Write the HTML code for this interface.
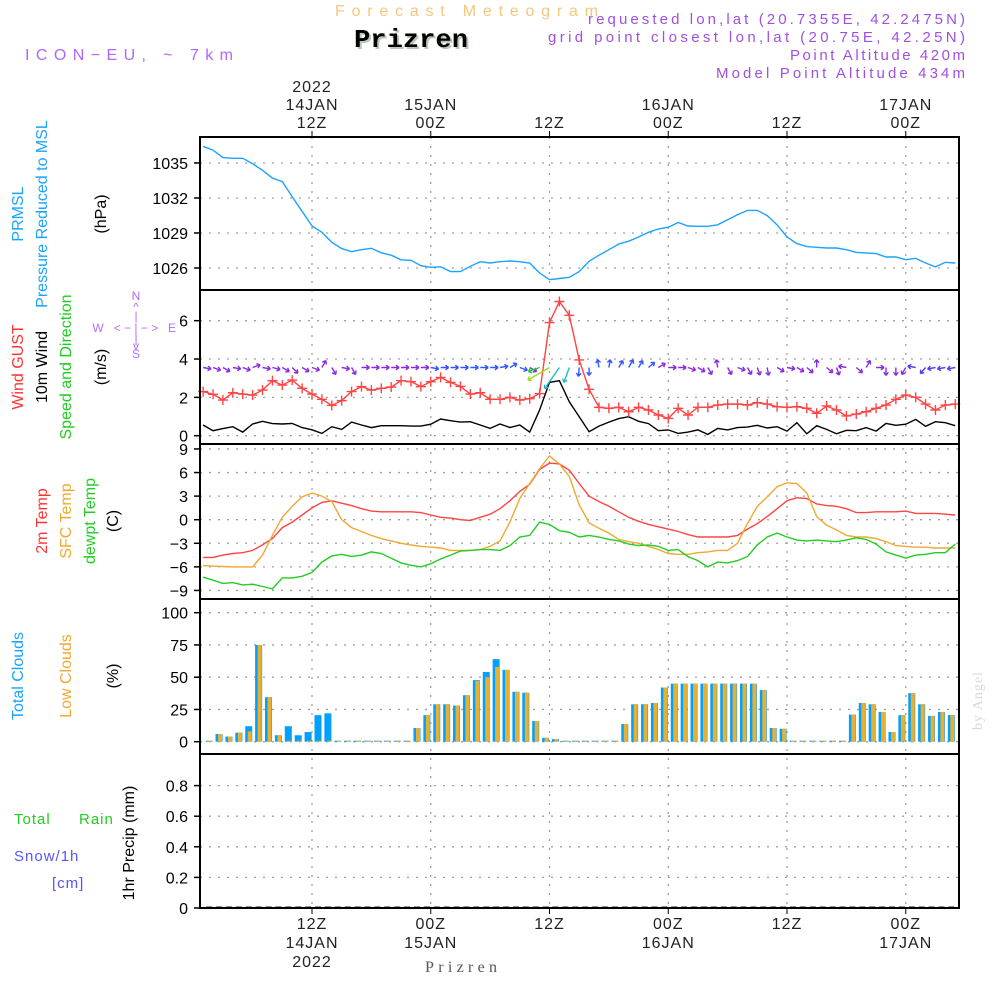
<!DOCTYPE html>
<html><head><meta charset="utf-8">
<style>
html,body{margin:0;padding:0;background:#fff;}
#wrap{position:relative;width:1000px;height:1000px;overflow:hidden;font-family:"Liberation Sans",sans-serif;}
svg text{font-family:"Liberation Sans",sans-serif;}
</style></head>
<body>
<div id="wrap">
<svg id="chart" width="1000" height="1000" xmlns="http://www.w3.org/2000/svg">
<text x="335" y="16" font-size="16" textLength="263" lengthAdjust="spacing" fill="#f5c77e">Forecast Meteogram</text>
<text x="356" y="49" font-size="26" font-weight="bold" textLength="114" lengthAdjust="spacingAndGlyphs" fill="#b9c9b9" style="font-family:'Liberation Mono',monospace">Prizren</text>
<text x="354" y="47" font-size="26" font-weight="bold" textLength="114" lengthAdjust="spacingAndGlyphs" fill="#000" style="font-family:'Liberation Mono',monospace">Prizren</text>
<text x="25" y="60" font-size="16" textLength="208" lengthAdjust="spacing" fill="#b266ff">ICON−EU, ~ 7km</text>
<g font-size="15" fill="#a050e0">
<text x="588" y="24" textLength="377" lengthAdjust="spacing">requested lon,lat (20.7355E, 42.2475N)</text>
<text x="548" y="42" textLength="417" lengthAdjust="spacing">grid point closest lon,lat (20.75E, 42.25N)</text>
<text x="790" y="60" textLength="175" lengthAdjust="spacing">Point Altitude 420m</text>
<text x="716" y="78" textLength="249" lengthAdjust="spacing">Model Point Altitude 434m</text>
</g>
<text transform="translate(982,730) rotate(-90)" font-size="14" fill="#d8d8d8" letter-spacing="1" style="font-family:'Liberation Serif',serif">by Angel</text>
<text x="425" y="972" font-size="16" textLength="72" lengthAdjust="spacing" fill="#555" style="font-family:'Liberation Serif',serif">Prizren</text>

<g id="leftlabels" font-size="16">
<text transform="translate(23,214) rotate(-90)" text-anchor="middle" fill="#1aa3ff">PRMSL</text>
<text transform="translate(47,214) rotate(-90)" text-anchor="middle" fill="#1aa3ff">Pressure Reduced to MSL</text>
<text transform="translate(106,214) rotate(-90)" text-anchor="middle" fill="#000">(hPa)</text>
<text transform="translate(23,367) rotate(-90)" text-anchor="middle" fill="#ff3333">Wind GUST</text>
<text transform="translate(47,367) rotate(-90)" text-anchor="middle" fill="#000">10m Wind</text>
<text transform="translate(71,367) rotate(-90)" text-anchor="middle" fill="#22cc22">Speed and Direction</text>
<text transform="translate(106,367) rotate(-90)" text-anchor="middle" fill="#000">(m/s)</text>
<text transform="translate(47,521) rotate(-90)" text-anchor="middle" fill="#ff3333">2m Temp</text>
<text transform="translate(71,521) rotate(-90)" text-anchor="middle" fill="#f0a830">SFC Temp</text>
<text transform="translate(95,521) rotate(-90)" text-anchor="middle" fill="#22cc22">dewpt Temp</text>
<text transform="translate(118,521) rotate(-90)" text-anchor="middle" fill="#000">(C)</text>
<text transform="translate(23,676) rotate(-90)" text-anchor="middle" fill="#1aa3ff">Total Clouds</text>
<text transform="translate(71,676) rotate(-90)" text-anchor="middle" fill="#f0a830">Low Clouds</text>
<text transform="translate(118,676) rotate(-90)" text-anchor="middle" fill="#000">(%)</text>
<text x="14" y="824" font-size="15" fill="#22cc22" letter-spacing="1">Total</text>
<text x="79" y="824" font-size="15" fill="#22cc22" letter-spacing="1">Rain</text>
<text x="14" y="861" font-size="15" fill="#5555ff" letter-spacing="1">Snow/1h</text>
<text x="52" y="888" font-size="15" fill="#5555ff" letter-spacing="1">[cm]</text>
<text transform="translate(134,843) rotate(-90)" text-anchor="middle" fill="#000">1hr Precip (mm)</text>
</g>
<g fill="#b070ff" font-size="12" text-anchor="middle">
<text x="136" y="300">N</text><text x="136" y="311">^</text><text x="136" y="320">|</text>
<text x="98" y="332">W</text><text x="136" y="332">&lt; − | − &gt;</text><text x="172" y="332">E</text>
<text x="136" y="343">|</text><text x="136" y="350">v</text><text x="136" y="358">S</text>
</g>
<g id="grid"></g>
<g id="marks"></g>
<g id="frames"></g>
</svg>
</div>
<script>
// ---- data (hourly from 01Z 14JAN) ----
const pressure = [1036.43,1036.1,1035.46,1035.4,1035.4,1034.94,1034.37,1033.7,1033.4,1032.1,1030.86,1029.6,1029.06,1028.2,1027.66,1027.4,1027.57,1027.69,1027.3,1027.1,1026.7,1026.66,1026.2,1026.06,1026.1,1025.7,1025.69,1026.14,1026.54,1026.43,1026.54,1026.6,1026.54,1026.43,1025.57,1025.0,1025.1,1025.2,1025.69,1026.57,1027.1,1027.57,1028.06,1028.3,1028.66,1029.06,1029.34,1029.5,1029.9,1029.6,1029.57,1029.57,1029.7,1030.14,1030.57,1030.94,1030.94,1030.49,1029.7,1028.66,1028.09,1027.83,1027.77,1027.71,1027.71,1027.57,1027.34,1027.29,1027.23,1026.94,1026.94,1026.71,1026.83,1026.43,1026.09,1026.49,1026.43];
const wind10m = [0.56,0.26,0.37,0.47,0.19,0.61,0.75,0.63,0.61,0.64,0.42,0.31,0.12,0.47,0.33,0.71,0.56,0.42,0.52,0.52,0.52,0.5,0.5,0.6,0.87,0.78,0.71,0.73,0.56,0.38,0.61,0.43,0.56,0.19,1.34,2.78,2.87,1.77,0.99,0.21,0.5,0.71,0.89,0.99,0.75,0.63,0.26,0.3,0.12,0.19,0.3,0.07,0.38,0.3,0.42,0.45,0.54,0.4,0.47,0.24,0.68,0.1,0.52,0.33,0.1,0.28,0.26,0.42,0.24,0.64,0.54,0.6,0.85,0.49,0.73,0.68,0.52];
const windGust = [2.3,2.16,1.86,2.24,2.17,2.12,2.38,2.87,2.64,2.9,2.47,2.17,1.9,1.58,1.83,2.3,2.56,2.38,2.47,2.54,2.87,2.82,2.56,2.82,3.04,2.78,2.57,2.17,2.24,1.9,1.9,2.0,1.86,1.93,2.2,5.9,7.0,6.28,3.95,2.42,1.48,1.43,1.48,1.25,1.48,1.34,1.08,0.9,1.43,1.08,1.48,1.48,1.6,1.65,1.65,1.6,1.72,1.65,1.51,1.48,1.51,1.43,1.17,1.55,1.34,1.03,1.13,1.25,1.43,1.6,1.9,2.12,2.0,1.65,1.34,1.6,1.65];
const windDir = [10,20,30,10,20,-20,10,15,30,45,30,20,-60,60,10,60,0,0,0,0,0,0,0,10,0,0,0,0,0,0,-10,-30,20,30,160,150,125,110,95,90,-100,-80,-60,-60,-60,-40,-30,0,0,20,30,60,-100,60,20,60,70,80,30,10,30,40,-90,40,70,-170,40,-60,0,90,90,120,-170,130,170,170,170];
const temp2m = [-4.8,-4.8,-4.5,-4.3,-4.2,-3.9,-3.2,-2.4,-1.0,-0.3,0.6,1.5,2.2,2.4,2.1,1.8,1.4,1.1,1.0,1.0,1.0,1.0,0.9,0.6,0.3,0.2,0.0,-0.1,0.3,0.7,1.4,2.4,3.6,4.5,6.4,7.2,7.1,6.3,4.6,3.0,2.3,1.7,1.0,0.3,-0.2,-0.6,-0.9,-1.2,-1.5,-1.9,-2.2,-2.2,-2.2,-2.2,-2.0,-1.2,-0.5,0.4,1.4,2.4,2.8,2.7,2.0,1.8,1.7,1.4,0.9,0.9,1.0,1.0,1.0,1.1,0.8,0.8,0.8,0.7,0.6];
const tempSfc = [-5.85,-5.9,-5.95,-6.0,-6.0,-6.0,-4.5,-2.0,0.3,1.7,2.9,3.4,3.0,2.3,0.0,-1.0,-1.5,-2.0,-2.4,-2.7,-3.0,-3.2,-3.4,-3.5,-3.6,-3.9,-3.9,-3.9,-3.8,-3.4,-2.7,-0.3,2.7,4.6,6.5,8.1,7.1,5.5,1.9,-0.4,-1.1,-1.7,-2.5,-2.8,-3.0,-3.4,-3.8,-4.3,-4.4,-4.4,-4.2,-4.1,-3.9,-3.9,-3.0,-0.5,1.7,2.9,4.2,4.7,4.6,3.4,0.4,-0.7,-1.3,-2.0,-2.2,-2.2,-2.4,-2.8,-3.3,-3.4,-3.5,-3.5,-3.6,-3.6,-3.6];
const dewpt = [-7.3,-7.7,-8.1,-8.0,-8.3,-8.2,-8.5,-8.8,-7.4,-7.4,-7.2,-6.7,-5.4,-4.6,-4.4,-4.7,-4.5,-4.1,-4.3,-4.9,-5.5,-5.8,-6.0,-5.6,-5.0,-4.5,-4.0,-3.9,-3.8,-3.8,-3.9,-3.3,-2.2,-2.0,-0.3,-0.6,-1.4,-1.6,-2.2,-2.0,-2.2,-2.5,-2.7,-3.1,-3.3,-3.2,-3.4,-3.9,-3.8,-4.7,-5.2,-6.0,-5.4,-5.5,-5.2,-4.7,-3.2,-2.2,-1.7,-2.2,-2.6,-2.7,-2.6,-2.7,-2.8,-2.6,-2.3,-2.5,-3.1,-4.1,-4.5,-4.9,-4.5,-4.4,-4.2,-4.2,-3.1];
const totalClouds = [0,6,4,7,12,75,34.5,5,12,5,7.5,20.6,22,0,0,0,0,0,0,0,0,10.6,20.6,29,29,28,36,47.7,54,64,55.7,38.7,38,16,3,2,0,0,0,0,0,0,13.7,29,29,30,42,45,45,45,45,45,45,45,45,45,40,10.6,10,0,0,0,0,0,0,21,30,29,23,7.5,20.6,37.6,29,20,23,20.6];
const lowClouds = [0,6,4,7,8,75,34.5,5,0,0,0,0,0,0,0,0,0,0,0,0,0,10.6,20.6,29,29,28,36,47,50,58,55.7,38.7,38,16,3,2,0,0,0,0,0,0,13.7,29,29,30,42,45,45,45,45,45,45,45,45,45,40,10.6,10,0,0,0,0,0,0,21,30,29,23,7.5,20.6,37.6,29,20,23,20.6];
const precip = new Array(76).fill(0);
const pressTicks = [1026,1029,1032,1035];
const windTicks = [0,2,4,6];
const tempTicks = [-9,-6,-3,0,3,6,9];
const cloudTicks = [0,25,50,75,100];
const precipTicks = [0,0.2,0.4,0.6,0.8];
const timeTicks = [12,24,36,48,60,72];
const topLabels = [["2022","14JAN","12Z"],["15JAN","00Z"],["12Z"],["16JAN","00Z"],["12Z"],["17JAN","00Z"]];
const botLabels = [["12Z","14JAN","2022"],["00Z","15JAN"],["12Z"],["00Z","16JAN"],["12Z"],["00Z","17JAN"]];
const arrowColors = (function(){const c=[];for(let i=0;i<77;i++){let col='#8a2be2';if(i>=23&&i<=32)col='#3355ff';if(i==34)col='#22cc22';if(i==35)col='#99dd22';if(i==36||i==37)col='#22bbcc';if(i>=38&&i<=45)col='#3355ff';if(i>=72)col='#5a3af0';c.push(col);}return c;})();

// ---- axes ----
const X0=200,X1=959;
const panels=[{t:137,b:290},{t:290,b:444},{t:444,b:599},{t:599,b:754},{t:754,b:908}];
const xT = t => 312 + (t-12)*9.896;
const yP = v => 268 - (v-1026)*11.67;
const yW = v => 435.7 - v*19.17;
const yT = v => 519.7 - v*7.86;
const yC = v => 741.7 - v*1.29;
const yR = v => 908 - v*153;
const NS='http://www.w3.org/2000/svg';
function mk(tag,attrs,parent){const e=document.createElementNS(NS,tag);for(const k in attrs)e.setAttribute(k,attrs[k]);parent.appendChild(e);return e;}
const grid=document.getElementById('grid'),marks=document.getElementById('marks'),frames=document.getElementById('frames');
const dot={stroke:'#a0a0a0','stroke-width':1.3,'stroke-dasharray':'2,7',fill:'none'};

timeTicks.forEach(t=>{
  const x=xT(t);
  const g=mk('line',Object.assign({x1:x,x2:x,y1:137,y2:908},dot),grid);
  
  
  mk('line',{x1:x,x2:x,y1:131,y2:137,stroke:'#000'},frames);
  mk('line',{x1:x,x2:x,y1:908,y2:914,stroke:'#000'},frames);
});
function hgrid(ticks,yf,fmt,name){
  ticks.forEach(v=>{
    const y=yf(v);
    const l=mk('line',Object.assign({x1:X0,x2:X1,y1:y,y2:y},dot),grid);
    
    
    mk('line',{x1:X0-6,x2:X0,y1:y,y2:y,stroke:'#000','stroke-width':1.5},frames);
    const tx=mk('text',{x:X0-12,y:y+6,'text-anchor':'end','font-size':16,fill:'#000'},frames);
    tx.textContent=fmt(v);
    
    
  });
}
hgrid(pressTicks,yP,v=>String(v),'pressure');
hgrid(windTicks,yW,v=>String(v),'wind');
hgrid(tempTicks,yT,v=>(v<0?'−'+(-v):String(v)),'temp');
hgrid(cloudTicks,yC,v=>String(v),'cloud');
hgrid(precipTicks,yR,v=>(v===0?'0':v.toFixed(1)),'precip');

topLabels.forEach((lab,i)=>{
  const x=xT(timeTicks[i]);
  lab.slice().reverse().forEach((s,j)=>{
    const t=mk('text',{x:x,y:128-j*18,'text-anchor':'middle','font-size':16,'letter-spacing':1,fill:'#222'},frames);
    t.textContent=s;
    
    
  });
});
botLabels.forEach((lab,i)=>{
  const x=xT(timeTicks[i]);
  lab.forEach((s,j)=>{
    const t=mk('text',{x:x,y:929+j*19,'text-anchor':'middle','font-size':16,'letter-spacing':1,fill:'#222'},frames);
    t.textContent=s;
    
    
  });
});

panels.forEach((p,i)=>{
  const r=mk('rect',{x:X0,y:p.t,width:X1-X0,height:p.b-p.t,fill:'none',stroke:'#000','stroke-width':2},frames);
  
  
});

function line(arr,yf,color,name){
  const pts=arr.map((v,i)=>xT(i+1).toFixed(1)+','+yf(v).toFixed(1)).join(' ');
  const pl=mk('polyline',{points:pts,fill:'none',stroke:color,'stroke-width':1.4},marks);
  
  
}
line(pressure,yP,'#1aa3ff','pressure-line');
line(wind10m,yW,'#000','wind-10m-line');
line(windGust,yW,'#ff4444','wind-gust-line');
windGust.forEach((v,i)=>{
  const x=xT(i+1),y=yW(v);
  const m=mk('path',{d:`M${x-5},${y}H${x+5}M${x},${y-5}V${y+5}`,stroke:'#ff4444','stroke-width':1.4},marks);
  
  
});
windDir.forEach((a,i)=>{
  const x=xT(i+1),y=367.5;
  const len=Math.max(8,wind10m[i]*9);
  const r=a*Math.PI/180;
  const ex=x+Math.cos(r)*len,ey=y+Math.sin(r)*len;
  const h1=r+Math.PI*0.8,h2=r-Math.PI*0.8;
  const d=`M${x},${y}L${ex},${ey}M${ex},${ey}L${ex+Math.cos(h1)*4},${ey+Math.sin(h1)*4}M${ex},${ey}L${ex+Math.cos(h2)*4},${ey+Math.sin(h2)*4}`;
  const p=mk('path',{d:d,stroke:arrowColors[i],'stroke-width':1.4,fill:'none'},marks);
  
  
});
line(temp2m,yT,'#ff4444','temp-2m-line');
line(tempSfc,yT,'#f0a830','temp-sfc-line');
line(dewpt,yT,'#22cc22','dewpoint-line');
totalClouds.forEach((v,i)=>{
  const xc=xT(i+1)+6;
  const h=Math.max(1,v*1.29);
  const b=mk('rect',{x:xc-3.5,y:yC(v)-(v===0?1:0),width:7,height:h,fill:'#00a0ff'},marks);
  
  
  const lv=lowClouds[i];
  const lh=Math.max(1,lv*1.29);
  const o=mk('rect',{x:xc-1,y:yC(lv)-(lv===0?1:0),width:4,height:lh,fill:'#e8b030'},marks);
  
  
});
precip.forEach((v,i)=>{
  const xc=xT(i+1)+6;
  const b=mk('rect',{x:xc-3,y:yR(v)-1.5,width:6,height:Math.max(1.5,v*153),fill:'#222'},marks);
  
  
});
</script>
</body></html>
